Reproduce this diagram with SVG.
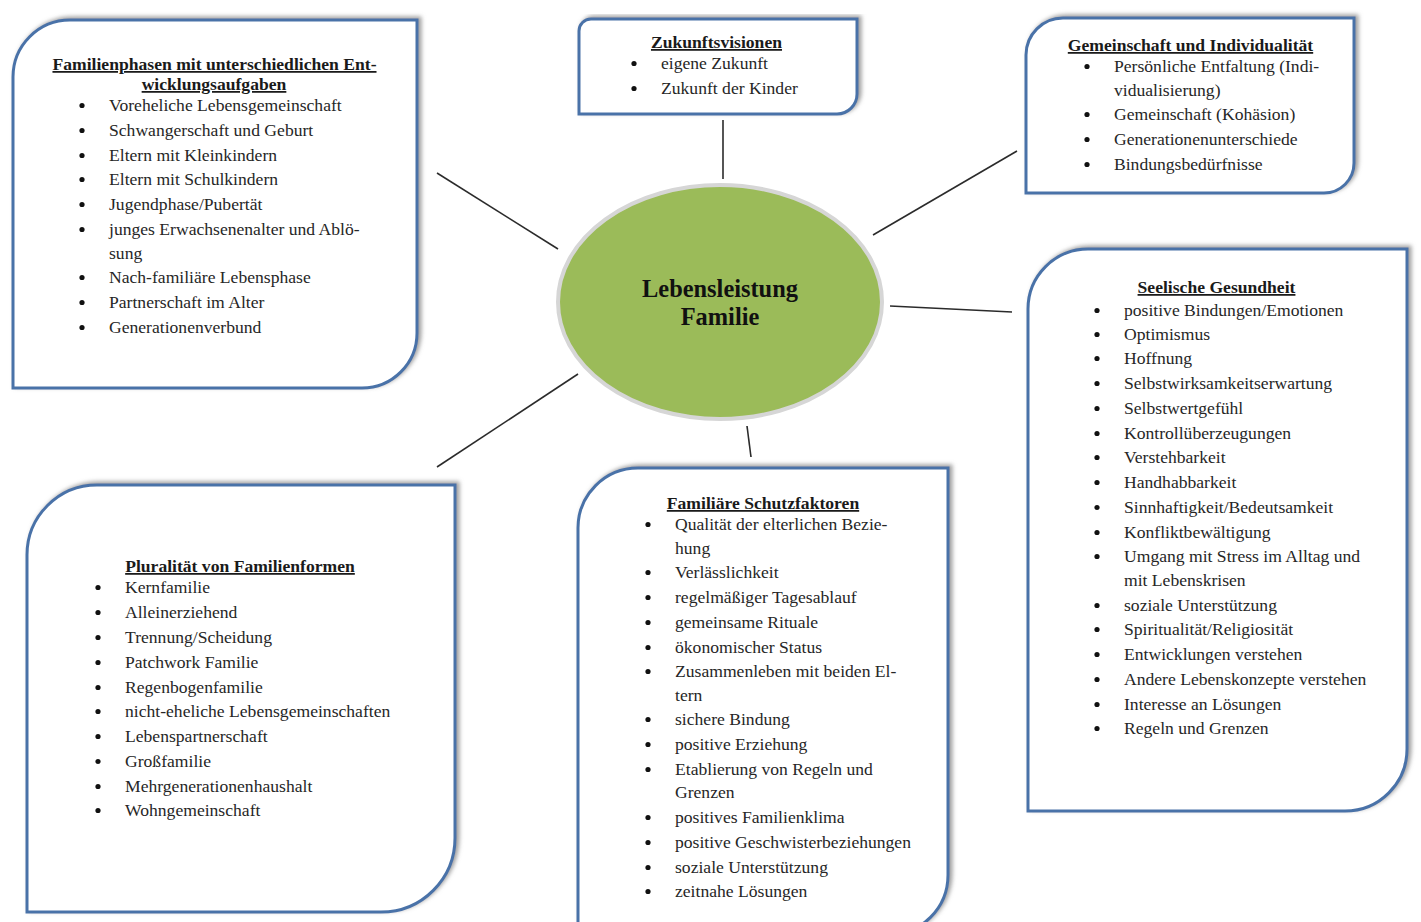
<svg xmlns="http://www.w3.org/2000/svg" width="1421" height="922" viewBox="0 0 1421 922">
<defs>
<filter id="sh" x="-5%" y="-5%" width="110%" height="110%">
<feDropShadow dx="3" dy="-2" stdDeviation="2" flood-color="#7f7f7f" flood-opacity="0.75"/>
</filter>
<style>
.box{fill:#fff;stroke:#4a72a8;stroke-width:3;filter:url(#sh)}
.t{font-family:"Liberation Serif","Times New Roman",serif;font-size:17.6px;fill:#262626}
.h{font-family:"Liberation Serif","Times New Roman",serif;font-size:17.6px;font-weight:bold;fill:#1a1a1a;text-anchor:middle;text-decoration:underline}
.c{font-family:"Liberation Serif","Times New Roman",serif;font-size:24.4px;font-weight:bold;fill:#111;text-anchor:middle}
.b{fill:#111}
.ln{stroke:#2b2b2b;stroke-width:1.6;fill:none}
</style>
</defs>
<rect width="1421" height="922" fill="#fff"/>

<g id="connectors">
<line class="ln" x1="437" y1="173" x2="558" y2="249"/>
<line class="ln" x1="723" y1="120" x2="723" y2="179"/>
<line class="ln" x1="1017" y1="151" x2="873" y2="235"/>
<line class="ln" x1="890" y1="306" x2="1012" y2="312"/>
<line class="ln" x1="747" y1="426" x2="751" y2="457"/>
<line class="ln" x1="578" y1="374" x2="437" y2="467"/>
</g>

<g id="center">
<ellipse cx="720" cy="302" rx="162" ry="117" fill="#9bbb59" stroke="#d6d6d6" stroke-width="4"/>
<text class="c" x="720" y="297">Lebensleistung</text>
<text class="c" x="720" y="325">Familie</text>
</g>

<g id="familienphasen">
<path class="box" d="M13,77 A57,57 0 0 1 70,20 L417,20 L417,333 A55,55 0 0 1 362,388 L13,388 Z"/>
<text class="h" x="214.5" y="70">Familienphasen mit unterschiedlichen Ent-</text>
<text class="h" x="214" y="90">wicklungsaufgaben</text>
<g class="b"><circle cx="82" cy="105.5" r="2.6"/><circle cx="82" cy="130.5" r="2.6"/><circle cx="82" cy="155.5" r="2.6"/><circle cx="82" cy="179.5" r="2.6"/><circle cx="82" cy="204.5" r="2.6"/><circle cx="82" cy="229.5" r="2.6"/><circle cx="82" cy="277.5" r="2.6"/><circle cx="82" cy="302.5" r="2.6"/><circle cx="82" cy="327.5" r="2.6"/></g>
<text class="t" x="109" y="111">Voreheliche Lebensgemeinschaft</text>
<text class="t" x="109" y="136">Schwangerschaft und Geburt</text>
<text class="t" x="109" y="161">Eltern mit Kleinkindern</text>
<text class="t" x="109" y="185">Eltern mit Schulkindern</text>
<text class="t" x="109" y="210">Jugendphase/Pubertät</text>
<text class="t" x="109" y="235">junges Erwachsenenalter und Ablö-</text>
<text class="t" x="109" y="259">sung</text>
<text class="t" x="109" y="283">Nach-familiäre Lebensphase</text>
<text class="t" x="109" y="308">Partnerschaft im Alter</text>
<text class="t" x="109" y="333">Generationenverbund</text>
</g>

<g id="zukunftsvisionen">
<path class="box" d="M579,31 A12,12 0 0 1 591,19 L857,19 L857,94 A20,20 0 0 1 837,114 L579,114 Z"/>
<text class="h" x="716.5" y="48">Zukunftsvisionen</text>
<g class="b"><circle cx="634" cy="63.5" r="2.6"/><circle cx="634" cy="88.5" r="2.6"/></g>
<text class="t" x="661" y="69">eigene Zukunft</text>
<text class="t" x="661" y="94">Zukunft der Kinder</text>
</g>

<g id="gemeinschaft">
<path class="box" d="M1026,55 A37,37 0 0 1 1063,18 L1354,18 L1354,163 A30,30 0 0 1 1324,193 L1026,193 Z"/>
<text class="h" x="1190.5" y="51">Gemeinschaft und Individualität</text>
<g class="b"><circle cx="1087" cy="66.5" r="2.6"/><circle cx="1087" cy="114.5" r="2.6"/><circle cx="1087" cy="139.5" r="2.6"/><circle cx="1087" cy="164.5" r="2.6"/></g>
<text class="t" x="1114" y="72">Persönliche Entfaltung (Indi-</text>
<text class="t" x="1114" y="96">vidualisierung)</text>
<text class="t" x="1114" y="120">Gemeinschaft (Kohäsion)</text>
<text class="t" x="1114" y="145">Generationenunterschiede</text>
<text class="t" x="1114" y="170">Bindungsbedürfnisse</text>
</g>

<g id="seelische">
<path class="box" d="M1028,309 A60,60 0 0 1 1088,249 L1407,249 L1407,749 A62,62 0 0 1 1345,811 L1028,811 Z"/>
<text class="h" x="1216.5" y="293">Seelische Gesundheit</text>
<g class="b">
<circle cx="1097" cy="310.5" r="2.6"/><circle cx="1097" cy="334.5" r="2.6"/><circle cx="1097" cy="358.5" r="2.6"/><circle cx="1097" cy="383.5" r="2.6"/><circle cx="1097" cy="408.5" r="2.6"/><circle cx="1097" cy="433.5" r="2.6"/><circle cx="1097" cy="457.5" r="2.6"/><circle cx="1097" cy="482.5" r="2.6"/><circle cx="1097" cy="507.5" r="2.6"/><circle cx="1097" cy="532.5" r="2.6"/><circle cx="1097" cy="556.5" r="2.6"/><circle cx="1097" cy="605.5" r="2.6"/><circle cx="1097" cy="629.5" r="2.6"/><circle cx="1097" cy="654.5" r="2.6"/><circle cx="1097" cy="679.5" r="2.6"/><circle cx="1097" cy="704.5" r="2.6"/><circle cx="1097" cy="728.5" r="2.6"/>
</g>
<text class="t" x="1124" y="316">positive Bindungen/Emotionen</text>
<text class="t" x="1124" y="340">Optimismus</text>
<text class="t" x="1124" y="364">Hoffnung</text>
<text class="t" x="1124" y="389">Selbstwirksamkeitserwartung</text>
<text class="t" x="1124" y="414">Selbstwertgefühl</text>
<text class="t" x="1124" y="439">Kontrollüberzeugungen</text>
<text class="t" x="1124" y="463">Verstehbarkeit</text>
<text class="t" x="1124" y="488">Handhabbarkeit</text>
<text class="t" x="1124" y="513">Sinnhaftigkeit/Bedeutsamkeit</text>
<text class="t" x="1124" y="538">Konfliktbewältigung</text>
<text class="t" x="1124" y="562">Umgang mit Stress im Alltag und</text>
<text class="t" x="1124" y="586">mit Lebenskrisen</text>
<text class="t" x="1124" y="611">soziale Unterstützung</text>
<text class="t" x="1124" y="635">Spiritualität/Religiosität</text>
<text class="t" x="1124" y="660">Entwicklungen verstehen</text>
<text class="t" x="1124" y="685">Andere Lebenskonzepte verstehen</text>
<text class="t" x="1124" y="710">Interesse an Lösungen</text>
<text class="t" x="1124" y="734">Regeln und Grenzen</text>
</g>

<g id="schutzfaktoren">
<path class="box" d="M578,528 A60,60 0 0 1 638,468 L948,468 L948,875 A60,60 0 0 1 888,935 L578,935 Z"/>
<text class="h" x="763" y="509">Familiäre Schutzfaktoren</text>
<g class="b">
<circle cx="648" cy="524.5" r="2.6"/><circle cx="648" cy="572.5" r="2.6"/><circle cx="648" cy="597.5" r="2.6"/><circle cx="648" cy="622.5" r="2.6"/><circle cx="648" cy="647.5" r="2.6"/><circle cx="648" cy="671.5" r="2.6"/><circle cx="648" cy="719.5" r="2.6"/><circle cx="648" cy="744.5" r="2.6"/><circle cx="648" cy="769.5" r="2.6"/><circle cx="648" cy="817.5" r="2.6"/><circle cx="648" cy="842.5" r="2.6"/><circle cx="648" cy="867.5" r="2.6"/><circle cx="648" cy="891.5" r="2.6"/>
</g>
<text class="t" x="675" y="530">Qualität der elterlichen Bezie-</text>
<text class="t" x="675" y="554">hung</text>
<text class="t" x="675" y="578">Verlässlichkeit</text>
<text class="t" x="675" y="603">regelmäßiger Tagesablauf</text>
<text class="t" x="675" y="628">gemeinsame Rituale</text>
<text class="t" x="675" y="653">ökonomischer Status</text>
<text class="t" x="675" y="677">Zusammenleben mit beiden El-</text>
<text class="t" x="675" y="701">tern</text>
<text class="t" x="675" y="725">sichere Bindung</text>
<text class="t" x="675" y="750">positive Erziehung</text>
<text class="t" x="675" y="775">Etablierung von Regeln und</text>
<text class="t" x="675" y="798">Grenzen</text>
<text class="t" x="675" y="823">positives Familienklima</text>
<text class="t" x="675" y="848">positive Geschwisterbeziehungen</text>
<text class="t" x="675" y="873">soziale Unterstützung</text>
<text class="t" x="675" y="897">zeitnahe Lösungen</text>
</g>

<g id="pluralitaet">
<path class="box" d="M27,555 A70,70 0 0 1 97,485 L455,485 L455,838 A74,74 0 0 1 381,912 L27,912 Z"/>
<text class="h" x="240" y="572">Pluralität von Familienformen</text>
<g class="b">
<circle cx="98" cy="587.5" r="2.6"/><circle cx="98" cy="612.5" r="2.6"/><circle cx="98" cy="637.5" r="2.6"/><circle cx="98" cy="662.5" r="2.6"/><circle cx="98" cy="687.5" r="2.6"/><circle cx="98" cy="711.5" r="2.6"/><circle cx="98" cy="736.5" r="2.6"/><circle cx="98" cy="761.5" r="2.6"/><circle cx="98" cy="786.5" r="2.6"/><circle cx="98" cy="810.5" r="2.6"/>
</g>
<text class="t" x="125" y="593">Kernfamilie</text>
<text class="t" x="125" y="618">Alleinerziehend</text>
<text class="t" x="125" y="643">Trennung/Scheidung</text>
<text class="t" x="125" y="668">Patchwork Familie</text>
<text class="t" x="125" y="693">Regenbogenfamilie</text>
<text class="t" x="125" y="717">nicht-eheliche Lebensgemeinschaften</text>
<text class="t" x="125" y="742">Lebenspartnerschaft</text>
<text class="t" x="125" y="767">Großfamilie</text>
<text class="t" x="125" y="792">Mehrgenerationenhaushalt</text>
<text class="t" x="125" y="816">Wohngemeinschaft</text>
</g>
</svg>
